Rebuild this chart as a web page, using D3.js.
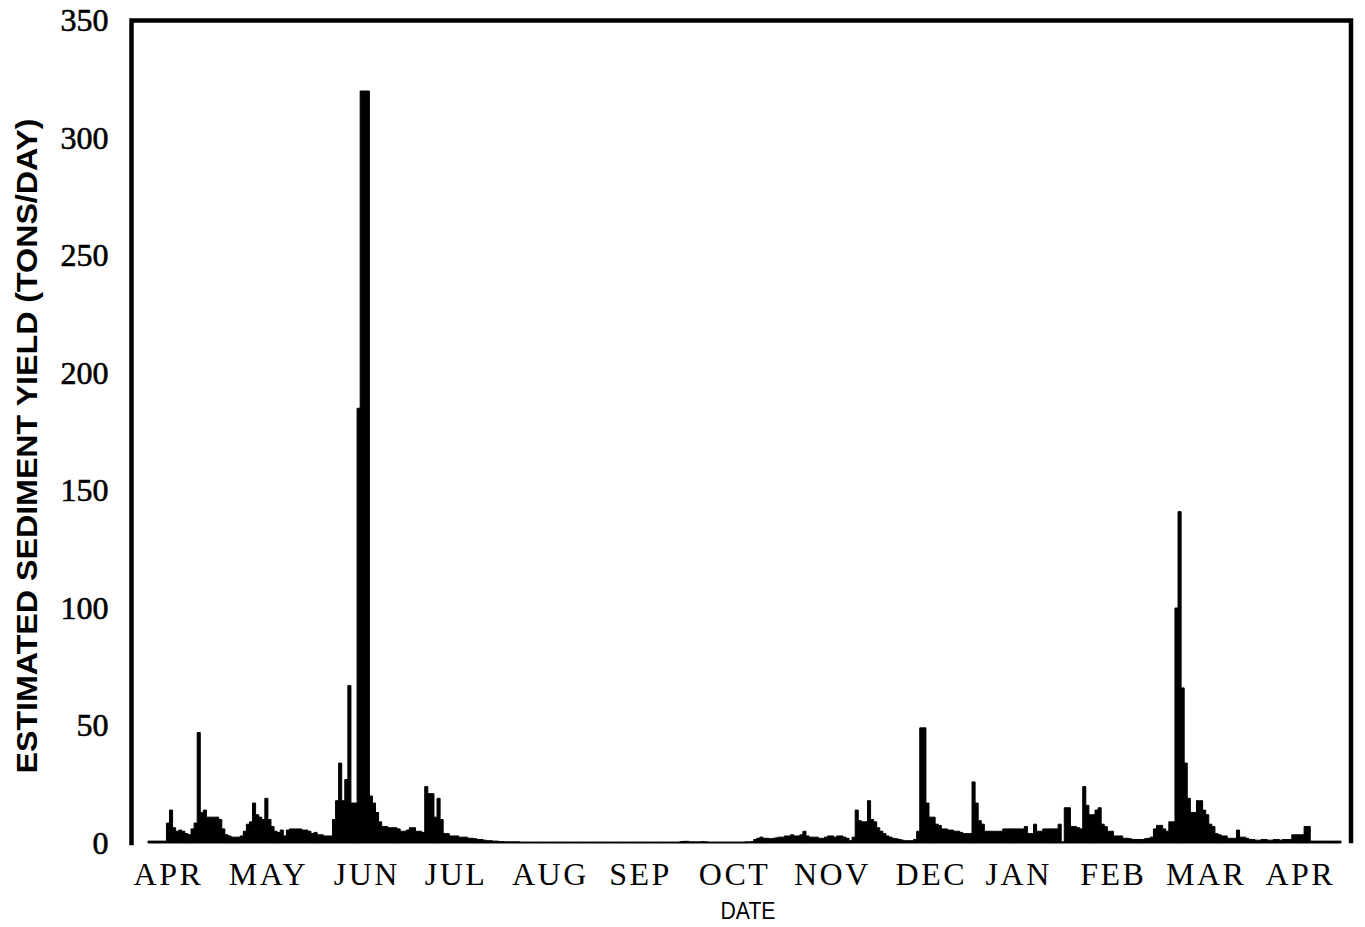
<!DOCTYPE html>
<html>
<head>
<meta charset="utf-8">
<script src="https://cdn.jsdelivr.net/npm/d3@7"></script>
<style>
  body { margin: 0; background: #fff; }
  svg { display: block; }
</style>
</head>
<body>
<div id="grafica"></div>
<script>
// daily sediment yield (tons/day), starting early April, one value per day
const sedimentYield = [
  0.8, 0.8, 0.8, 0.8, 0.8, 0.8, 8.5, 14, 6.5, 5,
  5.5, 5, 4, 3.5, 6, 8.5, 47, 13, 14, 11,
  11, 11, 11, 10, 6, 3.5, 3, 2.5, 2.5, 2.5,
  3, 5, 8, 9, 17, 12, 11, 10, 19, 10,
  7, 5, 4.5, 5.5, 3, 5.5, 6, 6, 6, 6,
  5.5, 5.5, 5, 4, 4.5, 3.5, 3.5, 3, 3, 3,
  10, 18, 34, 18, 27, 67, 17, 17, 185, 320,
  320, 320, 20, 17, 13, 9, 7, 7, 6.5, 6.5,
  6.5, 6, 5, 5, 5.5, 6.5, 6.5, 5, 5, 4.5,
  24, 21, 21, 11, 19, 10, 4, 4, 3, 3,
  3, 2.5, 2.5, 2.5, 2, 2, 1.8, 1.5, 1.5, 1.2,
  1, 1, 0.8, 0.8, 0.6, 0.6, 0.5, 0.5, 0.5, 0.5,
  0.5, 0.4, 0.4, 0.4, 0.4, 0.4, 0.4, 0.4, 0.4, 0.4,
  0.4, 0.4, 0.4, 0.4, 0.4, 0.4, 0.4, 0.4, 0.4, 0.4,
  0.4, 0.4, 0.4, 0.4, 0.4, 0.4, 0.4, 0.4, 0.4, 0.4,
  0.4, 0.4, 0.4, 0.4, 0.4, 0.4, 0.4, 0.4, 0.4, 0.4,
  0.4, 0.4, 0.4, 0.4, 0.4, 0.4, 0.4, 0.4, 0.4, 0.4,
  0.4, 0.4, 0.4, 0.6, 0.7, 0.7, 0.5, 0.5, 0.5, 0.5,
  0.6, 0.5, 0.4, 0.4, 0.4, 0.4, 0.4, 0.4, 0.4, 0.4,
  0.4, 0.4, 0.4, 0.4, 0.5, 0.5, 0.6, 1.5, 2, 2.5,
  2, 2, 1.8, 2, 2.2, 2.5, 2.5, 3, 3, 3.5,
  3, 3, 3.5, 5, 3, 2.5, 2.5, 2.5, 2, 2,
  2.5, 3, 3, 2.5, 3, 3, 2.5, 2, 1, 2.5,
  14, 9.5, 9, 9, 18, 10, 9, 6.5, 5, 4,
  3, 2.5, 2, 1.8, 1.5, 1.2, 1, 1, 1, 1.5,
  5, 49, 49, 17, 11, 11, 8, 7.5, 6, 6,
  5.5, 5.5, 5, 5, 4.5, 4, 4, 4, 26, 17,
  9.5, 8, 5, 5, 5, 5, 5, 5, 6, 6,
  6, 6, 6, 6, 6, 7, 4, 4, 8, 5,
  5, 6, 6, 6, 6, 6, 8, 0.5, 15, 15,
  7, 7, 6.5, 6, 24, 16, 12, 12, 14, 15,
  8, 7, 5, 5, 3, 3, 3, 2, 2, 1.8,
  1.5, 1.5, 1.5, 1.5, 1.8, 2, 2.5, 6, 7.5, 7.5,
  6, 5, 9, 9, 100, 141, 66, 34, 19, 13,
  13, 18, 18, 14, 12, 8, 7, 4, 3.5, 3,
  3, 2, 2, 2, 5.5, 2.5, 2.5, 2, 1.5, 1.5,
  1.2, 1.2, 1.5, 1.5, 1.2, 1.2, 1.5, 1.5, 1.2, 1.5,
  1.5, 1.5, 3.5, 3.5, 3.5, 3.5, 7, 7, 0.8, 0.8,
  0.8, 0.8, 0.8, 0.8, 0.8, 0.8, 0.8, 0.8
]

// month labels and where they sit (in days from the first value)
const monthLabels = ["APR", "MAY", "JUN", "JUL", "AUG", "SEP", "OCT", "NOV", "DEC", "JAN", "FEB", "MAR", "APR"]
const monthDays = [6.5, 39, 71, 100, 130.7, 160, 190.6, 222.4, 254.6, 283, 313.8, 344, 374.6]

const yTicks = [0, 50, 100, 150, 200, 250, 300, 350]

function createGraph() {
    let width = 1365
    let height = 927

    // frame of the plot
    let frameLeft = 131.5
    let frameRight = 1351
    let frameTop = 20.5
    let frameBottom = 843

    const xScale = d3.scaleLinear()
        .domain([0, sedimentYield.length])
        .range([148, 1341])

    const yScale = d3.scaleLinear()
        .domain([0, 350])
        .range([frameBottom, frameTop])

    const svg = d3.select('#grafica')
        .append("svg")
        .attr("width", width)
        .attr("height", height)

    // step area, one step per day
    const stepData = sedimentYield.concat([sedimentYield[sedimentYield.length - 1]])
    const area = d3.area()
        .x((d, i) => xScale(i))
        .y0(yScale(0))
        .y1(d => yScale(d))
        .curve(d3.curveStepAfter)

    svg.append("path")
        .datum(stepData)
        .attr("d", area)
        .attr("fill", "#000")
        .attr("stroke", "#000")
        .attr("stroke-width", 1)

    // frame: left, top, right
    svg.append("path")
        .attr("d", `M${frameLeft},${frameBottom}V${frameTop}H${frameRight}V${frameBottom - 2}`)
        .attr("fill", "none")
        .attr("stroke", "#000")
        .attr("stroke-width", 4.5)
        .attr("stroke-linecap", "square")

    // y axis labels
    const yAxis = d3.axisLeft(yScale)
        .tickValues(yTicks)
        .tickSize(0)
        .tickPadding(23)

    const gy = svg.append("g")
        .attr("transform", "translate(" + frameLeft + ",0)")
        .call(yAxis)
    gy.select(".domain").remove()
    gy.selectAll("text")
        .attr("font-family", "'Liberation Serif', 'Times New Roman', serif")
        .attr("font-size", 32)
        .attr("fill", "#000")
        .attr("stroke", "#000")
        .attr("stroke-width", 0.6)

    // month labels
    const xAxis = d3.axisBottom(xScale)
        .tickValues(monthDays)
        .tickFormat((d, i) => monthLabels[i])
        .tickSize(0)

    const gx = svg.append("g")
        .attr("transform", "translate(0," + frameBottom + ")")
        .call(xAxis)
    gx.select(".domain").remove()
    gx.selectAll("text")
        .attr("y", 42)
        .attr("dy", 0)
        .attr("font-family", "'Liberation Serif', 'Times New Roman', serif")
        .attr("font-size", 32)
        .attr("letter-spacing", 2.5)
        .attr("fill", "#000")

    svg.append("text")
        .attr("text-anchor", "middle")
        .attr("x", 748)
        .attr("y", 919)
        .attr("font-family", "'Liberation Sans', Arial, sans-serif")
        .attr("font-size", 24)
        .attr("textLength", 55)
        .attr("lengthAdjust", "spacingAndGlyphs")
        .text("DATE")

    svg.append("text")
        .attr("text-anchor", "middle")
        .attr("transform", "translate(37,446) rotate(-90)")
        .attr("font-family", "'Liberation Sans', Arial, sans-serif")
        .attr("font-weight", "bold")
        .attr("font-size", 29)
        .attr("textLength", 655)
        .attr("lengthAdjust", "spacingAndGlyphs")
        .text("ESTIMATED SEDIMENT YIELD (TONS/DAY)")
}

createGraph()
</script>
</body>
</html>
